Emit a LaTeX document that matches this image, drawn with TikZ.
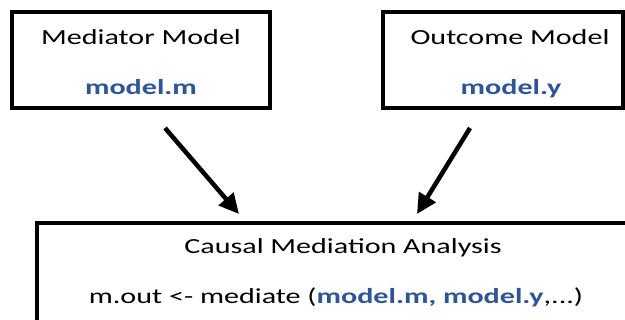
\documentclass[tikz,border=0pt]{standalone}
\usepackage{fontspec}
\setmainfont{Carlito}
\usetikzlibrary{arrows.meta}
\definecolor{codeblue}{HTML}{2F5597}
\tikzset{
  modelbox/.style={draw=black, line width=4pt, fill=white, inner sep=0pt},
  label/.style={xscale=1.4, inner sep=0pt, anchor=base,
    font=\fontsize{21.5}{26}\selectfont},
  code/.style={label, font=\fontsize{21.5}{26}\selectfont\bfseries, text=codeblue},
  flow/.style={line width=4.5pt, -{Triangle[length=20pt,width=19pt]}}
}
\begin{document}
\begin{tikzpicture}[x=1pt,y=-1pt]
\clip (0,0) rectangle (625,320);
\fill[white] (0,0) rectangle (625,320);

% the two fitted models
\node[modelbox, minimum width=258pt, minimum height=96pt] (med) at (141,60) {};
\node[modelbox, minimum width=240pt, minimum height=96pt] (out) at (503,60) {};
% the analysis step (runs past the page edges)
\node[modelbox, minimum width=620pt, minimum height=150pt] (cma) at (347,298) {};

\node[label] (medtitle) at (141,45) {Mediator Model};
\node[code]  (medcode)  at (141,95) {model.m};
\node[label] (outtitle) at (510,45) {Outcome Model};
\node[code]  (outcode)  at (511,95) {model.y};

\node[label] (cmatitle) at (343,254) {Causal Mediation Analysis};
\node[label] (cmacode)  at (336,304)
  {m.out <- mediate (\textcolor{codeblue}{\bfseries model.m, model.y},...)};

% arrows into the analysis
\coordinate (medfoot) at (165,128);
\coordinate (outfoot) at (470,128);
\coordinate (cmain1)  at (239,214);
\coordinate (cmain2)  at (417,214);
\draw[flow] (medfoot) -- (cmain1);
\draw[flow] (outfoot) -- (cmain2);
\end{tikzpicture}
\end{document}
